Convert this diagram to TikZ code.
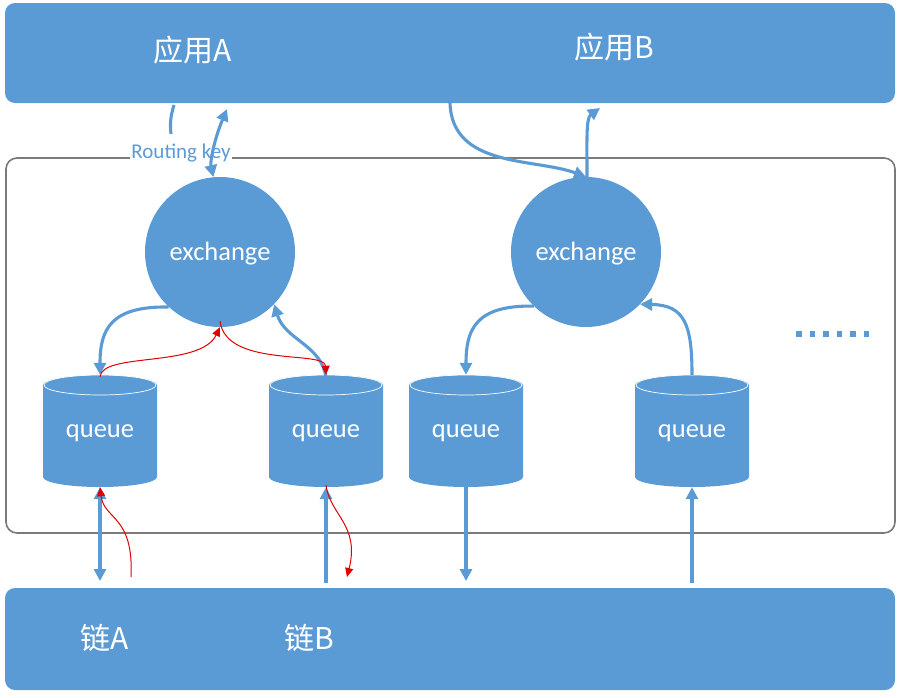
\documentclass[tikz,border=0pt]{standalone}
\usepackage{fontspec}
\setmainfont{Carlito}
\newfontfamily\cjk{Noto Sans CJK SC}
\usetikzlibrary{arrows.meta,calc}
\definecolor{qblue}{HTML}{5B9BD5}
\definecolor{boxgray}{HTML}{7A7A7A}
\definecolor{myred}{HTML}{E00000}
\newcommand\mycyl[1]{%
  \fill[qblue] ([shift={(-57,-46)}]#1) -- ([shift={(-57,46)}]#1)
     arc[start angle=180,end angle=360,x radius=57pt,y radius=10pt]
     -- ([shift={(57,-46)}]#1)
     arc[start angle=0,end angle=180,x radius=57pt,y radius=10pt] -- cycle;
  \draw[white,line width=0.7pt] ([shift={(0,-46)}]#1) ellipse [x radius=56pt,y radius=10pt];
}
\tikzset{
  bar/.style={fill=qblue,draw=none,rounded corners=10pt,minimum width=890pt,inner sep=0pt},
  bartext/.style={text=white,font=\cjk\fontsize{30}{34}\selectfont,inner sep=0pt},
  midbox/.style={draw=boxgray,line width=1.6pt,fill=white,rounded corners=11pt,minimum width=889pt,minimum height=375pt,inner sep=0pt},
  exch/.style={circle,fill=qblue,minimum size=150pt,inner sep=0pt},
  exchtext/.style={text=white,font=\fontsize{26.5}{30}\selectfont,inner sep=0pt},
  qbox/.style={rectangle,minimum width=114pt,minimum height=112pt,inner sep=0pt},
  qtext/.style={text=white,font=\fontsize{26.5}{30}\selectfont,inner sep=0pt},
  barrow/.style={draw=qblue,line width=3.1pt,-{Triangle[length=12pt,width=12pt]}},
  bline/.style={draw=qblue,line width=3.1pt},
  bdarrow/.style={draw=qblue,line width=3.1pt,{Triangle[length=12pt,width=12pt]}-{Triangle[length=12pt,width=12pt]}},
  rarrow/.style={draw=myred,line width=1pt,-{Triangle[length=9pt,width=8pt]}},
}
\begin{document}
\begin{tikzpicture}[x=1pt,y=-1pt]
\useasboundingbox (0,0) rectangle (902,697);
% bars and box
\node[bar,minimum height=100pt] (appbar) at (450,53) {};
\node[bartext] (appA) at (193,50) {应用A};
\node[bartext] (appB) at (614,47) {应用B};
\node[midbox] (mid) at (450.5,345.5) {};
\node[bar,minimum height=102pt] (chainbar) at (450,639) {};
\node[bartext] (chainA) at (105,638) {链A};
\node[bartext] (chainB) at (309,638) {链B};
% exchanges
\node[exch] (eA) at (220,252) {};
\node[exch] (eB) at (586,252) {};
\node[exchtext] (eAt) at (220,254) {exchange};
\node[exchtext] (eBt) at (586,254) {exchange};
% queues
\coordinate (c1) at (100,431);
\coordinate (c2) at (326,431);
\coordinate (c3) at (466,431);
\coordinate (c4) at (692,431);
\mycyl{c1}\mycyl{c2}\mycyl{c3}\mycyl{c4}
\node[qbox] (q1) at (c1) {};
\node[qbox] (q2) at (c2) {};
\node[qbox] (q3) at (c3) {};
\node[qbox] (q4) at (c4) {};
\node[qtext] (q1t) at (100,433) {queue};
\node[qtext] (q2t) at (326,433) {queue};
\node[qtext] (q3t) at (466,433) {queue};
\node[qtext] (q4t) at (692,433) {queue};
% free ends
\coordinate (rk1) at (174,105);
\coordinate (rk2) at (171,134);
\coordinate (upA) at (227,109);
\coordinate (dB) at (450,103);
\coordinate (upB) at (600,108);
\coordinate (b1) at (100,581);
\coordinate (r1) at (131,577);
\coordinate (b2) at (326,583);
\coordinate (r2) at (347,577);
\coordinate (b3) at (466,581);
\coordinate (b4) at (692,583);
% top connectors
\draw[bline] (rk1) .. controls (170,118) and (170,125) .. (rk2);
\node[fill=white,text=qblue,inner sep=1pt,font=\fontsize{21}{24}\selectfont] (rk) at (181,153) {Routing key};
\draw[bdarrow] (upA) .. controls (214,140) and (210,162) .. (eA.95);
\draw[barrow] (dB) .. controls (452,168) and (535,158) .. (eB.north);
\draw[barrow] ([xshift=1]eB.north) .. controls (587,140) and (586,118) .. (upB);
% exchange-queue
\draw[barrow] (eA.227) .. controls (110,306) and (100,330) .. (q1.north);
\draw[barrow] ([yshift=-3]q2.north) .. controls (322,345) and (285,340) .. (eA.-44);
\draw[rarrow] ([yshift=-2]q1.north) .. controls (102,352) and (200,368) .. (eA.south);
\draw[rarrow] ([yshift=6]eA.south) .. controls (226,368) and (325,350) .. (q2.north);
\draw[barrow] (eB.226) .. controls (475,305) and (466,330) .. (q3.north);
\draw[barrow] (q4.north) .. controls (692,325) and (685,305) .. (eB.-44);
% bottom connectors
\draw[bdarrow] (q1.south) -- (b1);
\draw[rarrow] (r1) .. controls (134,515) and (104,520) .. (q1.south);
\draw[barrow] (b2) -- (q2.south);
\draw[rarrow] ([yshift=2]q2.south) .. controls (330,515) and (360,525) .. (r2);
\draw[barrow] (q3.south) -- (b3);
\draw[barrow] (b4) -- (q4.south);
% dots
\foreach \x in {799,812.5,826,839.5,853,866.5}
  \fill[qblue] (\x-2.7,331.3) rectangle (\x+2.7,336.7);
\end{tikzpicture}
\end{document}
